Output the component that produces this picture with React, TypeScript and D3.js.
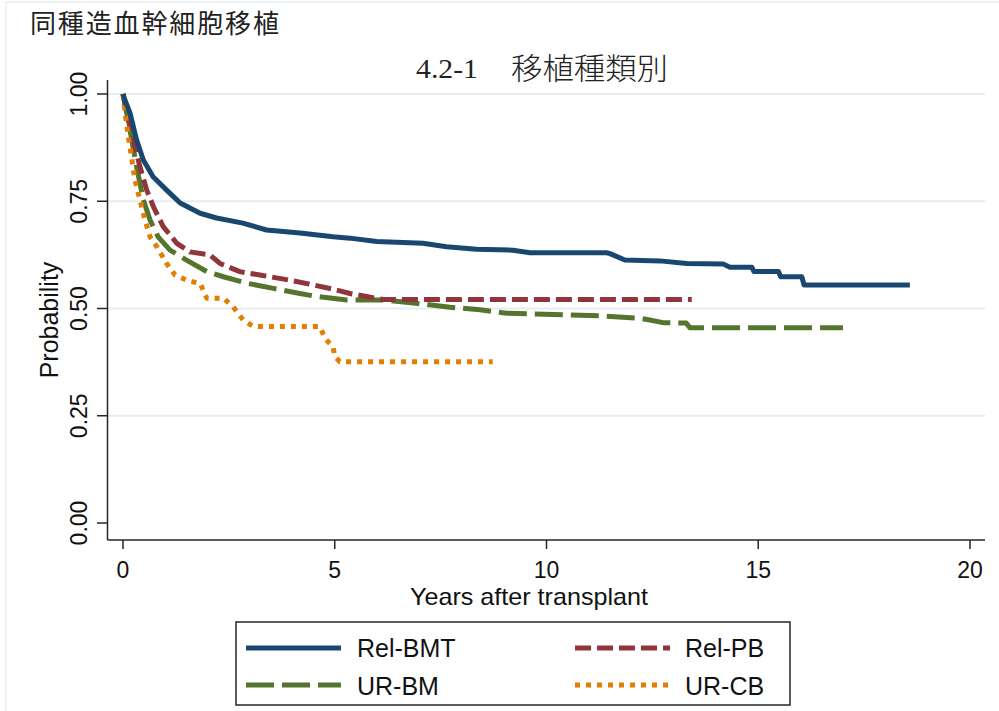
import React from "react";
import * as d3 from "d3";

// ---- data ----
const xTicks = [0, 5, 10, 15, 20];
const yTicks = [0, 0.25, 0.5, 0.75, 1];
const yTickLabels = ["0.00", "0.25", "0.50", "0.75", "1.00"];

const seriesNames = ["Rel-BMT", "Rel-PB", "UR-BM", "UR-CB"];
const seriesColors = ["#1a476f", "#90353b", "#55752f", "#e37e00"];
const seriesDash = ["none", "16,6", "28,8", "5,6"];

const relBmtT = [0, 0.05, 0.165, 0.32, 0.48, 0.71, 1.03, 1.35, 1.82, 2.21, 2.83, 3.39, 4.18, 4.96, 5.36, 5.99, 7.08, 7.64, 8.35, 9.21, 9.61, 11.42, 11.5, 11.85, 12.68, 13.31, 14.17, 14.33, 14.85, 14.9, 15.48, 15.53, 16.03, 16.08, 18.58];
const relBmtS = [1, 0.985, 0.956, 0.893, 0.846, 0.807, 0.776, 0.746, 0.722, 0.711, 0.699, 0.683, 0.676, 0.667, 0.664, 0.656, 0.652, 0.644, 0.638, 0.636, 0.63, 0.63, 0.628, 0.613, 0.611, 0.605, 0.604, 0.596, 0.596, 0.586, 0.586, 0.574, 0.574, 0.555, 0.555];

const relPbT = [0, 0.125, 0.28, 0.4, 0.56, 0.72, 0.95, 1.27, 1.58, 2.05, 2.29, 2.76, 3.23, 3.94, 4.49, 4.96, 5.36, 5.75, 6.14, 13.43];
const relPbS = [1, 0.939, 0.877, 0.831, 0.776, 0.737, 0.691, 0.652, 0.632, 0.625, 0.605, 0.586, 0.578, 0.566, 0.555, 0.545, 0.535, 0.528, 0.521, 0.521];

const urBmT = [0, 0.165, 0.32, 0.48, 0.64, 0.83, 1.11, 1.5, 1.98, 2.37, 2.92, 3.55, 4.18, 4.57, 5.28, 6.14, 6.85, 7.72, 8.43, 9.06, 10.48, 11.26, 12.21, 12.44, 12.75, 13.3, 13.39, 17.0];
const urBmS = [1, 0.916, 0.831, 0.753, 0.706, 0.667, 0.636, 0.613, 0.586, 0.574, 0.559, 0.547, 0.535, 0.528, 0.52, 0.52, 0.513, 0.503, 0.497, 0.489, 0.485, 0.483, 0.477, 0.473, 0.467, 0.466, 0.455, 0.455];

const urCbT = [0, 0.05, 0.125, 0.2, 0.28, 0.4, 0.52, 0.64, 0.8, 0.91, 1.03, 1.23, 1.5, 1.66, 1.82, 1.98, 2.37, 2.6, 2.84, 3.08, 4.65, 4.77, 4.96, 5.0, 5.12, 8.73];
const urCbS = [1, 0.955, 0.9, 0.854, 0.8, 0.753, 0.706, 0.667, 0.644, 0.625, 0.605, 0.578, 0.566, 0.562, 0.559, 0.524, 0.524, 0.504, 0.473, 0.458, 0.458, 0.43, 0.411, 0.388, 0.376, 0.376];

const seriesT = [relBmtT, relPbT, urBmT, urCbT];
const seriesS = [relBmtS, relPbS, urBmS, urCbS];

const pageTitle = "同種造血幹細胞移植";
const chartNumber = "4.2-1";
const chartTitle = "移植種類別";
const xTitle = "Years after transplant";
const yTitle = "Probability";

export default function App() {
  const W = 999;
  const H = 711;
  const x = d3.scaleLinear().domain([0, 20]).range([123, 970]);
  const y = d3.scaleLinear().domain([0, 1]).range([523, 94]);
  const axisLeft = 107.5;
  const axisBottom = 540;
  const plotRight = 985;
  const plotTop = 80;

  const line = d3
    .line<[number, number]>()
    .x((d) => x(d[0]))
    .y((d) => y(d[1]))
    .curve(d3.curveLinear);

  const sans = "'Liberation Sans', Arial, Helvetica, sans-serif";
  const axisColor = "#262626";
  const gridColor = "#e5edef";

  const legendPos = [
    { lx: 246, ly: 648, tx: 357, ty: 657 },
    { lx: 575, ly: 648, tx: 685, ty: 657 },
    { lx: 246, ly: 685, tx: 357, ty: 695 },
    { lx: 575, ly: 685, tx: 685, ty: 695 },
  ];

  return (
    <svg
      width={W}
      height={H}
      style={{ position: "absolute", left: 0, top: 0, background: "#fff" }}
    >
      <rect x={0} y={0} width={W} height={H} fill="#fff" />
      <path d={`M6,${H} V2 H${W}`} fill="none" stroke="#e8eff1" strokeWidth={1.5} />

      {/* titles */}
      <text
        x={30}
        y={33}
        fontFamily="'Noto Sans CJK JP', sans-serif"
        fontSize={26}
        textLength={249}
        lengthAdjust="spacing"
        fill="#222"
      >
        {pageTitle}
      </text>
      <text
        x={416}
        y={78}
        fontFamily="'Liberation Serif', 'DejaVu Serif', serif"
        fontSize={27}
        textLength={62}
        lengthAdjust="spacingAndGlyphs"
        fill="#222"
      >
        {chartNumber}
      </text>
      <text
        x={511}
        y={79}
        fontFamily="'Noto Sans CJK JP', serif"
        fontSize={30}
        fontWeight={300}
        textLength={157}
        lengthAdjust="spacingAndGlyphs"
        fill="#222"
      >
        {chartTitle}
      </text>

      {/* gridlines */}
      {yTicks
        .filter((t) => t > 0)
        .map((t) => (
          <line
            key={"g" + t}
            x1={axisLeft}
            x2={plotRight}
            y1={y(t)}
            y2={y(t)}
            stroke={gridColor}
            strokeWidth={2}
          />
        ))}

      {/* axes */}
      <line x1={axisLeft} x2={axisLeft} y1={plotTop} y2={axisBottom} stroke={axisColor} strokeWidth={1.5} />
      <line x1={axisLeft} x2={plotRight} y1={axisBottom} y2={axisBottom} stroke={axisColor} strokeWidth={1.5} />
      {yTicks.map((t, i) => (
        <g key={"yt" + t}>
          <line x1={97} x2={axisLeft} y1={y(t)} y2={y(t)} stroke={axisColor} strokeWidth={1.5} />
          <text
            transform={`translate(87,${y(t)}) rotate(-90)`}
            textAnchor="middle"
            fontFamily={sans}
            fontSize={23}
            fill="#111"
          >
            {yTickLabels[i]}
          </text>
        </g>
      ))}
      {xTicks.map((t) => (
        <g key={"xt" + t}>
          <line x1={x(t)} x2={x(t)} y1={axisBottom} y2={axisBottom + 9} stroke={axisColor} strokeWidth={1.5} />
          <text x={x(t)} y={578} textAnchor="middle" fontFamily={sans} fontSize={23} fill="#111">
            {t}
          </text>
        </g>
      ))}
      <text x={529} y={605} textAnchor="middle" fontFamily={sans} fontSize={24} textLength={238} lengthAdjust="spacingAndGlyphs" fill="#111">
        {xTitle}
      </text>
      <text
        transform={`translate(58,320) rotate(-90)`}
        textAnchor="middle"
        fontFamily={sans}
        fontSize={25}
        fill="#111"
      >
        {yTitle}
      </text>

      {/* curves */}
      {[2, 1, 3, 0].map((si) => {
        const pts = seriesT[si].map((t, k) => [t, seriesS[si][k]] as [number, number]);
        return (
          <path
            key={"s" + si}
            d={line(pts) || ""}
            fill="none"
            stroke={seriesColors[si]}
            strokeWidth={5}
            strokeDasharray={seriesDash[si]}
            strokeLinejoin="round"
          />
        );
      })}

      {/* legend */}
      <rect x={236} y={622} width={554} height={83} fill="#fff" stroke={axisColor} strokeWidth={1.5} />
      {seriesNames.map((name, i) => {
        const p = legendPos[i];
        return (
          <g key={"l" + name}>
            <line
              x1={p.lx}
              x2={p.lx + 95}
              y1={p.ly}
              y2={p.ly}
              stroke={seriesColors[i]}
              strokeWidth={5}
              strokeDasharray={seriesDash[i]}
            />
            <text x={p.tx} y={p.ty} fontFamily={sans} fontSize={25} fill="#111">
              {name}
            </text>
          </g>
        );
      })}
    </svg>
  );
}
